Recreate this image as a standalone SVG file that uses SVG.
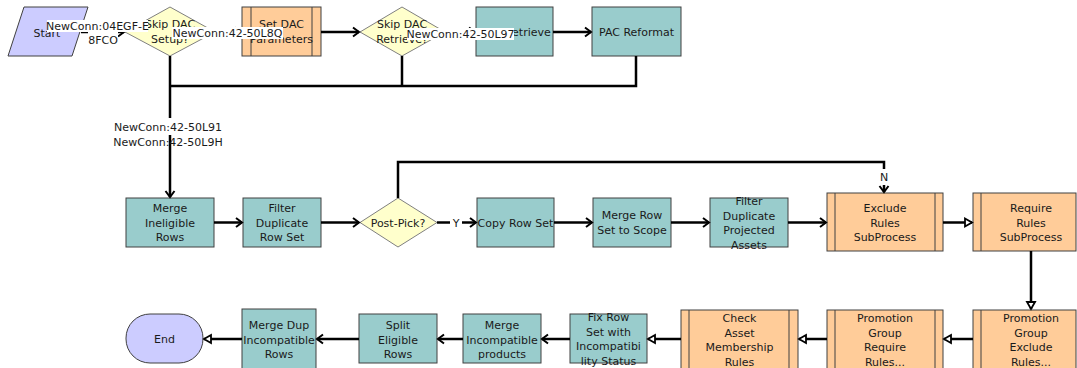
<svg xmlns="http://www.w3.org/2000/svg" width="1077" height="368" viewBox="0 0 1077 368">
<style>
.teal{fill:#99CCCC;stroke:#404040;stroke-width:1}
.orange{fill:#FFCC99;stroke:#404040;stroke-width:1}
.bar{stroke:#404040;stroke-width:1}
.dia{fill:#FFFFCC;stroke:#808080;stroke-width:1}
.term{fill:#CCCCFF;stroke:#404040;stroke-width:1}
text{font-family:"DejaVu Sans",sans-serif;font-size:11px;fill:#1a1a1a;text-anchor:middle}
.c{fill:none;stroke:#000;stroke-width:2.5}
.ch{marker-end:url(#chev)}
.tr{marker-end:url(#tri)}
.bg{fill:#fff}
</style>
<defs>
<marker id="chev" markerUnits="userSpaceOnUse" markerWidth="10" markerHeight="12" refX="7" refY="6" orient="auto">
<path d="M1,1.5 L7,6 L1,10.5" fill="none" stroke="#000" stroke-width="2"/>
</marker>
<marker id="tri" markerUnits="userSpaceOnUse" markerWidth="10" markerHeight="12" refX="8" refY="6" orient="auto">
<path d="M1,2 L8,6 L1,10 z" fill="#fff" stroke="#000" stroke-width="1.8"/>
</marker>
</defs>

<g id="nodes">
<g id="start"><polygon class="term" points="24,7 88,7 72,56 8,56"/><text x="47" y="37">Start</text></g>
<g id="skipDacSetup"><polygon class="dia" points="125,32 170,7 215,32 170,56"/><text x="170" y="28">Skip DAC</text><text x="170" y="43">Setup?</text></g>
<g id="setDac"><rect class="orange" x="242" y="7" width="79" height="49"/><line class="bar" x1="251" y1="7" x2="251" y2="56"/><line class="bar" x1="312" y1="7" x2="312" y2="56"/><text x="281.5" y="28">Set DAC</text><text x="281.5" y="43">Parameters</text></g>
<g id="skipDacRetrieve"><polygon class="dia" points="360,32 402,7 445,32 402,56"/><text x="402" y="28">Skip DAC</text><text x="402" y="43">Retrieve?</text></g>
<g id="dacRetrieve"><rect class="teal" x="476" y="7" width="77" height="49"/><text x="514.5" y="36">DAC Retrieve</text></g>
<g id="pacReformat"><rect class="teal" x="592" y="7" width="89" height="49"/><text x="636.5" y="36">PAC Reformat</text></g>

<g id="mergeIneligible"><rect class="teal" x="126" y="198" width="88" height="49"/><text x="170" y="212">Merge</text><text x="170" y="226.5">Ineligible</text><text x="170" y="241">Rows</text></g>
<g id="filterDupRowSet"><rect class="teal" x="243" y="198" width="78" height="49"/><text x="282" y="212">Filter</text><text x="282" y="226.5">Duplicate</text><text x="282" y="241">Row Set</text></g>
<g id="postPick"><polygon class="dia" points="360,222.5 398,198 437,222.5 398,247"/><text x="398" y="226.5">Post-Pick?</text></g>
<g id="copyRowSet"><rect class="teal" x="477" y="198" width="77" height="49"/><text x="515.5" y="226.5">Copy Row Set</text></g>
<g id="mergeRowSet"><rect class="teal" x="593" y="198" width="78" height="49"/><text x="632" y="219">Merge Row</text><text x="632" y="234">Set to Scope</text></g>
<g id="filterDupProj"><rect class="teal" x="710" y="198" width="78" height="49"/><text x="749" y="205">Filter</text><text x="749" y="219.5">Duplicate</text><text x="749" y="234">Projected</text><text x="749" y="248.5">Assets</text></g>
<g id="excludeRules"><rect class="orange" x="827" y="193" width="116" height="58"/><line class="bar" x1="835" y1="193" x2="835" y2="251"/><line class="bar" x1="935" y1="193" x2="935" y2="251"/><text x="885" y="212">Exclude</text><text x="885" y="226.5">Rules</text><text x="885" y="241">SubProcess</text></g>
<g id="requireRules"><rect class="orange" x="973" y="193" width="103" height="58"/><line class="bar" x1="981" y1="193" x2="981" y2="251"/><text x="1031" y="212">Require</text><text x="1031" y="226.5">Rules</text><text x="1031" y="241">SubProcess</text></g>

<g id="pgExclude"><rect class="orange" x="973" y="310" width="103" height="60"/><line class="bar" x1="981" y1="310" x2="981" y2="370"/><text x="1031" y="322">Promotion</text><text x="1031" y="336.5">Group</text><text x="1031" y="351">Exclude</text><text x="1031" y="365.5">Rules...</text></g>
<g id="pgRequire"><rect class="orange" x="827" y="310" width="116" height="60"/><line class="bar" x1="835" y1="310" x2="835" y2="370"/><line class="bar" x1="935" y1="310" x2="935" y2="370"/><text x="885" y="322">Promotion</text><text x="885" y="336.5">Group</text><text x="885" y="351">Require</text><text x="885" y="365.5">Rules...</text></g>
<g id="checkAsset"><rect class="orange" x="681" y="310" width="117" height="60"/><line class="bar" x1="689" y1="310" x2="689" y2="370"/><line class="bar" x1="789" y1="310" x2="789" y2="370"/><text x="739.5" y="322">Check</text><text x="739.5" y="336.5">Asset</text><text x="739.5" y="351">Membership</text><text x="739.5" y="365.5">Rules</text></g>
<g id="fixRowSet"><rect class="teal" x="570" y="314" width="77" height="49"/><text x="608.5" y="321">Fix Row</text><text x="608.5" y="335.5">Set with</text><text x="608.5" y="350">Incompatibi</text><text x="608.5" y="364.5">lity Status</text></g>
<g id="mergeIncompat"><rect class="teal" x="463" y="314" width="78" height="49"/><text x="502" y="329">Merge</text><text x="502" y="343.5">Incompatible</text><text x="502" y="358">products</text></g>
<g id="splitEligible"><rect class="teal" x="359" y="314" width="78" height="49"/><text x="398" y="329">Split</text><text x="398" y="343.5">Eligible</text><text x="398" y="358">Rows</text></g>
<g id="mergeDup"><rect class="teal" x="242" y="309" width="74" height="61"/><text x="279" y="329">Merge Dup</text><text x="279" y="343.5">Incompatible</text><text x="279" y="358">Rows</text></g>
<g id="end"><rect class="term" x="126" y="314" width="77" height="49" rx="24" ry="24"/><text x="164.5" y="343">End</text></g>
</g>

<g id="connectors">
<path class="c ch" d="M81,32 H124"/>
<path class="c ch" d="M215,32 H241"/>
<path class="c ch" d="M321,32 H359"/>
<path class="c ch" d="M445,32 H475"/>
<path class="c ch" d="M553,32 H591"/>
<path class="c" d="M636,56 V86 H170"/>
<path class="c" d="M402,56 V86"/>
<path class="c ch" d="M170,56 V197"/>
<path class="c ch" d="M214,222.5 H242"/>
<path class="c ch" d="M321,222.5 H359"/>
<path class="c ch" d="M437,222.5 H476"/>
<path class="c ch" d="M554,222.5 H592"/>
<path class="c ch" d="M671,222.5 H709"/>
<path class="c ch" d="M788,222.5 H826"/>
<path class="c ch" d="M398,198 V162 H884 V192"/>
<path class="c tr" d="M943,222.5 H972"/>
<path class="c tr" d="M1031,251 V309"/>
<path class="c tr" d="M973,339 H944"/>
<path class="c tr" d="M827,339 H799"/>
<path class="c tr" d="M681,339 H648"/>
<path class="c ch" d="M570,339 H542"/>
<path class="c ch" d="M463,339 H438"/>
<path class="c ch" d="M359,339 H317"/>
<path class="c tr" d="M242,339 H204"/>
</g>

<g id="labels">
<rect class="bg" x="47" y="20" width="101" height="12"/>
<text x="97.5" y="30">NewConn:04EGF-E</text>
<rect class="bg" x="88" y="32" width="30" height="13"/>
<text x="103" y="44">8FCO</text>
<rect class="bg" x="172" y="27" width="111" height="12"/>
<text x="227.5" y="37">NewConn:42-50L8Q</text>
<rect class="bg" x="407" y="28" width="107" height="12"/>
<text x="460.5" y="38">NewConn:42-50L97</text>
<rect class="bg" x="113" y="118" width="110" height="17"/>
<text x="168" y="131">NewConn:42-50L91</text>
<text x="168" y="146">NewConn:42-50L9H</text>
<rect class="bg" x="878" y="169" width="12" height="16"/>
<text x="884" y="181">N</text>
<rect class="bg" x="450" y="215" width="12" height="15"/>
<text x="456" y="226.5">Y</text>
</g>
</svg>
